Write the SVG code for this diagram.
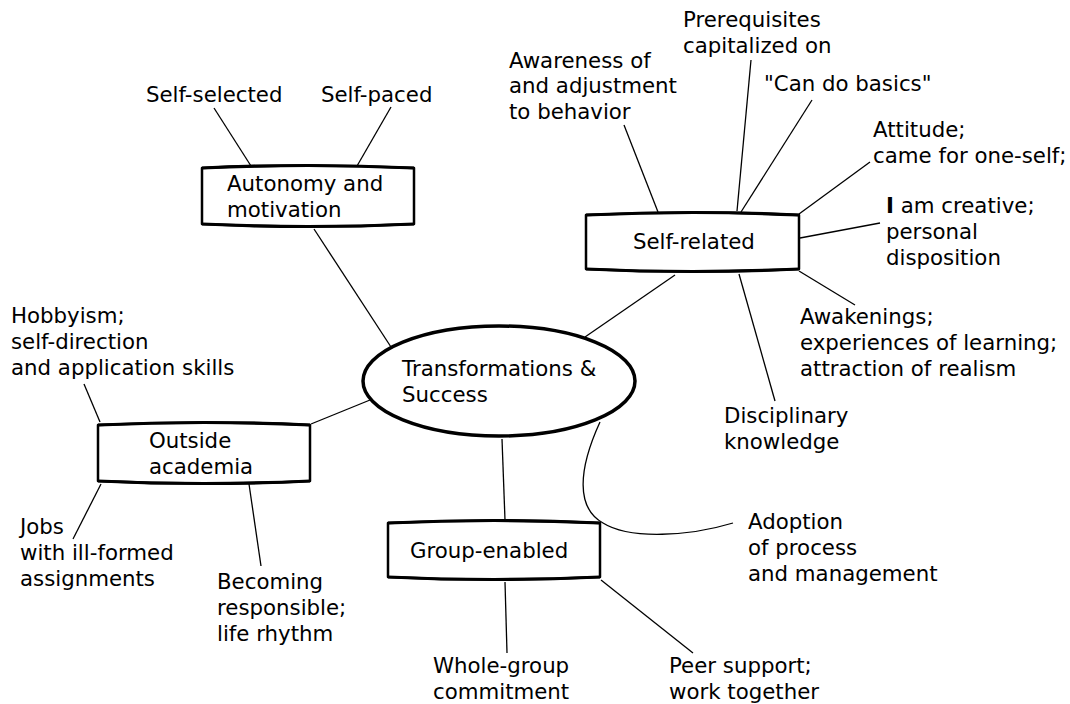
<svg xmlns="http://www.w3.org/2000/svg" width="1070" height="704" viewBox="0 0 1070 704">
<style>
text{font-family:"DejaVu Sans","Liberation Sans",sans-serif;font-size:21.3px;fill:#000}
.box{fill:#fff;stroke:#000;stroke-width:2.5;stroke-linejoin:round}
.edge{fill:none;stroke:#000;stroke-width:3.2}
.c{fill:none;stroke:#000;stroke-width:1.3}
</style>
<rect width="1070" height="704" fill="#fff"/>
<g id="connectors">
<line class="c" x1="214" y1="108" x2="251" y2="166"/>
<line class="c" x1="391" y1="107" x2="357" y2="166"/>
<line class="c" x1="314" y1="229" x2="391" y2="347"/>
<line class="c" x1="624" y1="125" x2="658" y2="212"/>
<line class="c" x1="751" y1="60" x2="737" y2="211"/>
<line class="c" x1="812" y1="100" x2="741" y2="212"/>
<line class="c" x1="870" y1="162" x2="799" y2="214"/>
<line class="c" x1="880" y1="223" x2="800" y2="238"/>
<line class="c" x1="799" y1="271" x2="855" y2="305"/>
<line class="c" x1="675" y1="275" x2="585" y2="337"/>
<line class="c" x1="739" y1="274" x2="775" y2="401"/>
<line class="c" x1="502" y1="439" x2="505" y2="520"/>
<line class="c" x1="311" y1="424" x2="370" y2="400"/>
<line class="c" x1="84" y1="384" x2="100" y2="422"/>
<line class="c" x1="101" y1="484" x2="73" y2="539"/>
<line class="c" x1="249" y1="484" x2="261" y2="566"/>
<line class="c" x1="505" y1="582" x2="507" y2="653"/>
<line class="c" x1="601" y1="580" x2="693" y2="653"/>
<path class="c" d="M600,422 C578,470 576,508 603,523 C630,540 690,536 733,523"/>
</g>
<g id="n-center">
<ellipse cx="499" cy="381" rx="136" ry="55" fill="#fff" stroke="#000" stroke-width="3.5"/>
<text x="402" y="376">Transformations &amp;</text>
<text x="402" y="402">Success</text>
</g>
<g id="n-autonomy">
<path class="box" d="M202,168 Q308,163 414,168 L414,224 Q308,229 202,224 Z"/>
<path class="edge" d="M202,168 Q308,163 414,168 M202,224 Q308,229 414,224"/>
<text x="227" y="191">Autonomy and</text>
<text x="227" y="217">motivation</text>
</g>
<g id="n-self">
<path class="box" d="M586,215 Q693,210 799,215 L799,269 Q693,274 586,269 Z"/>
<path class="edge" d="M586,215 Q693,210 799,215 M586,269 Q693,274 799,269"/>
<text x="633" y="249">Self-related</text>
</g>
<g id="n-outside">
<path class="box" d="M98,425 Q204,420 310,425 L310,481 Q204,486 98,481 Z"/>
<path class="edge" d="M98,425 Q204,420 310,425 M98,481 Q204,486 310,481"/>
<text x="149" y="448">Outside</text>
<text x="149" y="474">academia</text>
</g>
<g id="n-group">
<path class="box" d="M388,523 Q494,518 600,523 L600,577 Q494,582 388,577 Z"/>
<path class="edge" d="M388,523 Q494,518 600,523 M388,577 Q494,582 600,577"/>
<text x="410" y="558">Group-enabled</text>
</g>
<g id="l-selfselected"><text x="146" y="102">Self-selected</text></g>
<g id="l-selfpaced"><text x="321" y="102">Self-paced</text></g>
<g id="l-awareness">
<text x="509" y="68">Awareness of</text>
<text x="509" y="93">and adjustment</text>
<text x="509" y="119">to behavior</text>
</g>
<g id="l-prereq">
<text x="683" y="27">Prerequisites</text>
<text x="683" y="53">capitalized on</text>
</g>
<g id="l-cando"><text x="764" y="91">"Can do basics"</text></g>
<g id="l-attitude">
<text x="873" y="137">Attitude;</text>
<text x="873" y="163">came for one-self;</text>
</g>
<g id="l-creative">
<text x="886" y="213"><tspan font-weight="bold">I</tspan> am creative;</text>
<text x="886" y="239">personal</text>
<text x="886" y="265">disposition</text>
</g>
<g id="l-awakenings">
<text x="800" y="324">Awakenings;</text>
<text x="800" y="350">experiences of learning;</text>
<text x="800" y="376">attraction of realism</text>
</g>
<g id="l-disciplinary">
<text x="724" y="423">Disciplinary</text>
<text x="724" y="449">knowledge</text>
</g>
<g id="l-adoption">
<text x="748" y="529">Adoption</text>
<text x="748" y="555">of process</text>
<text x="748" y="581">and management</text>
</g>
<g id="l-whole">
<text x="433" y="673">Whole-group</text>
<text x="433" y="699">commitment</text>
</g>
<g id="l-peer">
<text x="669" y="673">Peer support;</text>
<text x="669" y="699">work together</text>
</g>
<g id="l-hobby">
<text x="11" y="323">Hobbyism;</text>
<text x="11" y="349">self-direction</text>
<text x="11" y="375">and application skills</text>
</g>
<g id="l-jobs">
<text x="20" y="534">Jobs</text>
<text x="20" y="560">with ill-formed</text>
<text x="20" y="586">assignments</text>
</g>
<g id="l-becoming">
<text x="217" y="589">Becoming</text>
<text x="217" y="615">responsible;</text>
<text x="217" y="641">life rhythm</text>
</g>
</svg>
